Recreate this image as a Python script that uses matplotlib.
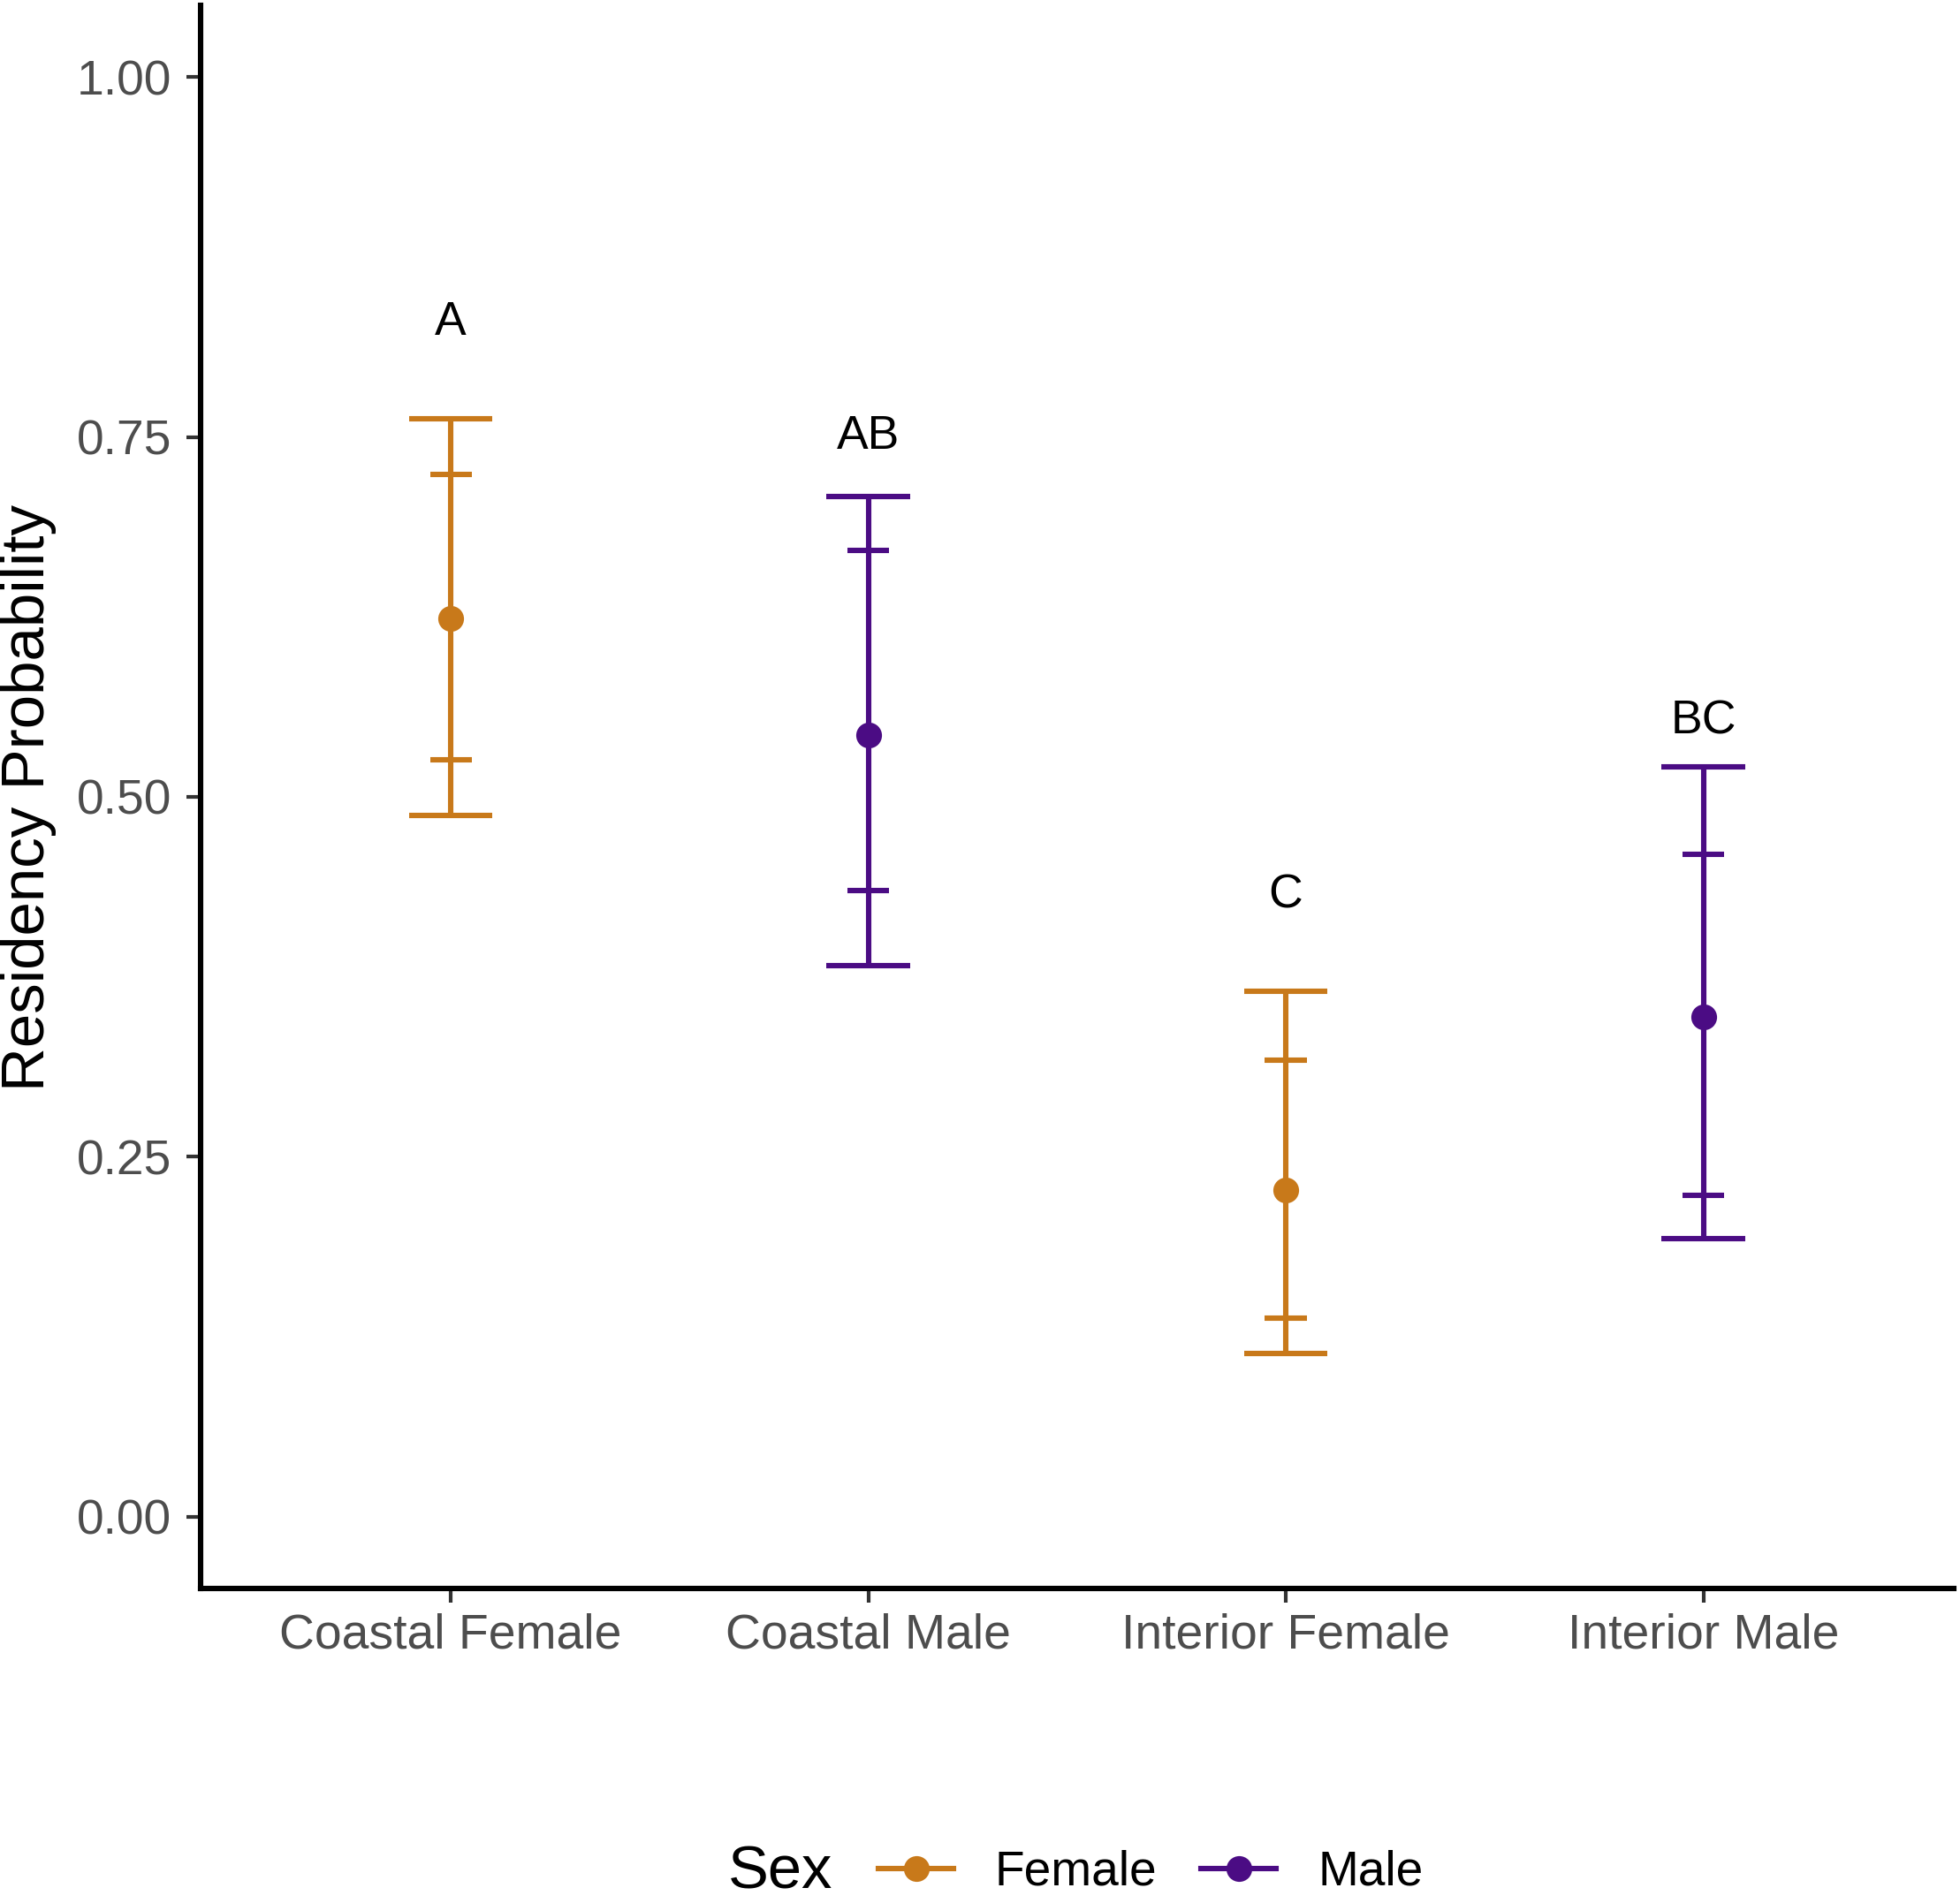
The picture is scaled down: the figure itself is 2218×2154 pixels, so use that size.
import matplotlib
matplotlib.use("Agg")
import matplotlib.pyplot as plt
from matplotlib.lines import Line2D
import numpy as np

# ---- data ----
groups = ["Coastal Female", "Coastal Male", "Interior Female", "Interior Male"]
sex = ["Female", "Male", "Female", "Male"]
mean = [0.624, 0.543, 0.227, 0.347]
lo95 = [0.487, 0.383, 0.113, 0.193]
hi95 = [0.763, 0.709, 0.365, 0.521]
lo50 = [0.526, 0.435, 0.138, 0.223]
hi50 = [0.724, 0.671, 0.317, 0.460]
letters = ["A", "AB", "C", "BC"]
letter_y = [0.833, 0.754, 0.435, 0.556]
yticks = [0.00, 0.25, 0.50, 0.75, 1.00]
ytick_labels = ["0.00", "0.25", "0.50", "0.75", "1.00"]
sex_levels = ["Female", "Male"]
sex_colors = {"Female": "#C8791A", "Male": "#4B0C84"}

plt.rcParams['font.family'] = ['Liberation Sans', 'DejaVu Sans']

W, H, DPI = 2218, 2154, 100
fig = plt.figure(figsize=(W / DPI, H / DPI), dpi=DPI)
L, R, T, B = 226.7, 2211, 6, 1798
ax = fig.add_axes([L / W, 1 - B / H, (R - L) / W, (B - T) / H])

x = np.arange(1, len(groups) + 1)
cols = [sex_colors[s] for s in sex]
lw = 4.4
for i in range(len(groups)):
    c = cols[i]
    ax.vlines(x[i], lo95[i], hi95[i], color=c, lw=lw, zorder=2)
    ax.hlines([lo95[i], hi95[i]], x[i] - 0.1, x[i] + 0.1, color=c, lw=lw, zorder=2)
    ax.hlines([lo50[i], hi50[i]], x[i] - 0.05, x[i] + 0.05, color=c, lw=lw, zorder=2)
    ax.plot(x[i], mean[i], 'o', color=c, markersize=21, markeredgewidth=0, zorder=3)
    ax.text(x[i], letter_y[i], letters[i], ha='center', va='center_baseline',
            fontsize=38.5, color='black')

ax.set_xlim(0.4, 4.6)
ax.set_ylim(-0.05, 1.05)
ax.set_xticks(x)
ax.set_xticklabels(groups)
ax.set_yticks(yticks)
ax.set_yticklabels(ytick_labels)
for s in ['top', 'right']:
    ax.spines[s].set_visible(False)
for s in ['left', 'bottom']:
    ax.spines[s].set_linewidth(4.4)
    ax.spines[s].set_color('black')
ax.tick_params(axis='both', colors='#333333', width=3, length=11.5,
               labelsize=39.8, labelcolor='#4D4D4D')
ax.tick_params(axis='x', pad=8.5)
ax.tick_params(axis='y', pad=12)

fig.text(32 / W, 1 - 903 / H, "Residency Probability", rotation=90,
         ha='center', va='center', fontsize=49.8, color='black')

# legend
handles = [Line2D([], [], color=sex_colors[s], lw=lw, marker='o', markersize=21,
                  markeredgewidth=0) for s in sex_levels]
fig.text(824 / W, 1 - 2137 / H, "Sex", ha='left', va='baseline', fontsize=49.5,
         color='black')
fig.legend(handles, sex_levels, loc='center left',
           bbox_to_anchor=(994 / W, 1 - 2120 / H), ncol=2, frameon=False,
           fontsize=39.6, handlelength=1.55, handletextpad=0.85,
           columnspacing=0.9, borderpad=0, borderaxespad=0, numpoints=1)

fig.savefig("out.png", dpi=DPI)
